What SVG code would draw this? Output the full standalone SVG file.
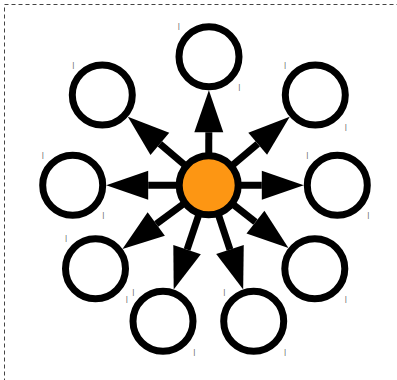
<svg xmlns="http://www.w3.org/2000/svg" width="397" height="380" viewBox="0 0 397 380">
<style>
.frame{fill:none;stroke:#444;stroke-width:1;stroke-dasharray:4 3}
.edge{stroke:#000;stroke-width:7;fill:none;marker-end:url(#ah)}
.node{fill:#fff;stroke:#000;stroke-width:7}
.hub{fill:#fd9613;stroke:#000;stroke-width:7}
.mk{font-family:"Liberation Sans",Arial,sans-serif;font-size:6.5px;fill:#333}
</style>
<defs>
<marker id="ah" markerUnits="userSpaceOnUse" markerWidth="42" markerHeight="29" refX="0" refY="14.5" orient="auto" overflow="visible">
<path d="M0,0 L42,14.5 L0,29 Z" fill="#000"/>
</marker>
</defs>
<rect class="frame" x="4.5" y="4.5" width="420" height="420"/>
<g id="marks">
<text class="mk" x="178" y="28">|</text>
<text class="mk" x="238.6" y="89.4">|</text>
<text class="mk" x="72.6" y="66.7">|</text>
<text class="mk" x="284.3" y="66.7">|</text>
<text class="mk" x="345" y="128.7">|</text>
<text class="mk" x="42" y="157">|</text>
<text class="mk" x="102.6" y="217">|</text>
<text class="mk" x="306.6" y="157">|</text>
<text class="mk" x="367.6" y="217">|</text>
<text class="mk" x="65.3" y="240.4">|</text>
<text class="mk" x="126" y="300.7">|</text>
<text class="mk" x="345" y="300.7">|</text>
<text class="mk" x="132.6" y="293.7">|</text>
<text class="mk" x="193.6" y="353.7">|</text>
<text class="mk" x="223.6" y="293.7">|</text>
<text class="mk" x="284.3" y="353.7">|</text>
</g>
<g id="connectors">
<line class="edge" x1="208.7" y1="185.3" x2="208.8" y2="132.2"/>
<line class="edge" x1="208.7" y1="185.3" x2="159.87" y2="143.85"/>
<line class="edge" x1="208.7" y1="185.3" x2="257.69" y2="143.8"/>
<line class="edge" x1="208.7" y1="185.3" x2="148.2" y2="185.3"/>
<line class="edge" x1="208.7" y1="185.3" x2="261.8" y2="185.3"/>
<line class="edge" x1="208.7" y1="185.3" x2="156.26" y2="223.98"/>
<line class="edge" x1="208.7" y1="185.3" x2="255.46" y2="222.1"/>
<line class="edge" x1="208.7" y1="185.3" x2="187.07" y2="249.64"/>
<line class="edge" x1="208.7" y1="185.3" x2="229.97" y2="249.53"/>
</g>
<g id="hub"><circle class="hub" cx="208.7" cy="185.3" r="29.5"/></g>
<g id="n-top"><circle class="node" cx="209" cy="56.7" r="30"/></g>
<g id="n-tl"><circle class="node" cx="102.3" cy="95" r="30"/></g>
<g id="n-tr"><circle class="node" cx="315.3" cy="95" r="30"/></g>
<g id="n-l"><circle class="node" cx="72.7" cy="185.3" r="30"/></g>
<g id="n-r"><circle class="node" cx="337.3" cy="185.3" r="30"/></g>
<g id="n-bl"><circle class="node" cx="95.5" cy="268.8" r="30"/></g>
<g id="n-br"><circle class="node" cx="314.8" cy="268.8" r="30"/></g>
<g id="n-bml"><circle class="node" cx="163" cy="321.2" r="30"/></g>
<g id="n-bmr"><circle class="node" cx="253.7" cy="321.2" r="30"/></g>
</svg>
